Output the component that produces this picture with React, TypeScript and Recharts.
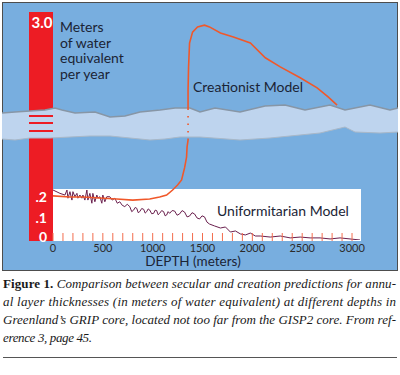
import React from 'react';
import { LineChart, Line, XAxis, YAxis } from 'recharts';

// depth axis labels (m) and value axis labels (m water equivalent / yr)
const DEPTH_LABELS = [0, 500, 1000, 1500, 2000, 2500, 3000];
const DEPTH_MINOR_STEP = 100;
const Y_TICKS = [0, 0.1, 0.2, 3.0];
const Y_TICK_LABELS = ['0', '.1', '.2', '3.0'];

// Uniformitarian model (GRIP core)
const UNI_DEPTH = [
  0, 70, 120, 140, 150, 170, 190, 200, 220, 240, 250, 270, 290, 300, 320, 340, 350, 370, 390, 400,
  420, 440, 450, 470, 490, 500, 520, 540, 570, 595, 620, 645, 670, 695, 720, 745, 770, 790, 810, 825,
  840, 855, 870, 890, 910, 925, 940, 955, 970, 990, 1010, 1025, 1040, 1055, 1070, 1090, 1110, 1125,
  1140, 1155, 1170, 1195, 1220, 1245, 1270, 1295, 1320, 1345, 1370, 1395, 1420, 1445, 1470, 1495,
  1520, 1545, 1570, 1620, 1680, 1730, 1780, 1830, 1880, 1930, 1980, 2030, 2080, 2180, 2280, 2380,
  2480, 2580, 2680, 2780, 2880, 2980, 3080,
];
const UNI_VALUE = [
  0.238, 0.222, 0.214, 0.238, 0.199, 0.23, 0.19, 0.23, 0.206, 0.222, 0.199, 0.214, 0.199, 0.214, 0.19,
  0.238, 0.19, 0.222, 0.175, 0.222, 0.182, 0.214, 0.199, 0.206, 0.175, 0.214, 0.182, 0.206, 0.206, 0.19,
  0.199, 0.175, 0.182, 0.165, 0.159, 0.17, 0.159, 0.135, 0.143, 0.155, 0.151, 0.13, 0.135, 0.15, 0.146,
  0.128, 0.135, 0.148, 0.143, 0.125, 0.127, 0.142, 0.14, 0.12, 0.127, 0.14, 0.135, 0.115, 0.119, 0.135,
  0.127, 0.14, 0.138, 0.118, 0.124, 0.14, 0.133, 0.11, 0.114, 0.13, 0.124, 0.105, 0.1, 0.115, 0.11,
  0.085, 0.076, 0.067, 0.057, 0.062, 0.038, 0.043, 0.029, 0.024, 0.033, 0.019, 0.019, 0.014, 0.019,
  0.01, 0.014, 0.01, 0.01, 0.005, 0.01, 0.005, 0,
];

// Creationist model: below the tear, and above it
const CRE_LOW_DEPTH = [0, 170, 300, 470, 640, 800, 970, 1070, 1140, 1200, 1250, 1290, 1320, 1340, 1345, 1355];
const CRE_LOW_VALUE = [0.21, 0.205, 0.205, 0.2, 0.195, 0.19, 0.195, 0.205, 0.214, 0.238, 0.262, 0.286, 0.343, 0.395, 0.443, 0.476];
const CRE_HIGH_DEPTH = [1355, 1355, 1360, 1370, 1400, 1450, 1520, 1570, 1680, 1810, 1980, 2130, 2280, 2480, 2650, 2760, 2850];
const CRE_HIGH_VALUE = [1.0, 1.46, 1.99, 2.54, 2.79, 2.91, 2.95, 2.91, 2.77, 2.68, 2.54, 2.2, 1.99, 1.74, 1.51, 1.3, 1.11];

// broken value axis: linear up to the tear, then a squeezed upper part
const BREAK_LOW = 0.476;
const BREAK_HIGH = 1.0;
const TEAR = 0.143;
const UPPER_SCALE = 0.207;
const toPlot = (v: number) => {
  if (v <= BREAK_LOW) return v;
  if (v <= BREAK_HIGH) return BREAK_LOW + ((v - BREAK_LOW) / (BREAK_HIGH - BREAK_LOW)) * TEAR;
  return BREAK_LOW + TEAR + (v - BREAK_HIGH) * UPPER_SCALE;
};

const toRows = (depth: number[], value: number[]) =>
  depth.map((d, i) => ({ depth: d, value: value[i], plot: toPlot(value[i]) }));

const uniData = toRows(UNI_DEPTH, UNI_VALUE);
const creLow = toRows(CRE_LOW_DEPTH, CRE_LOW_VALUE);
const creHigh = toRows(CRE_HIGH_DEPTH, CRE_HIGH_VALUE);
const creTear = [creLow[creLow.length - 1], creHigh[0]];

const minorTicks: number[] = [];
for (let d = 0; d <= DEPTH_LABELS[DEPTH_LABELS.length - 1]; d += DEPTH_MINOR_STEP) minorTicks.push(d);

const FONT = 'Lato, "Open Sans", sans-serif';
const BLUE = '#78aedf';
const RED = '#ed1c24';
const ORANGE = '#f0582a';

const DepthTick = (props: any) => {
  const { x, y, payload } = props;
  const v = payload.value;
  return (
    <g>
      <line x1={x} x2={x} y1={y - 7} y2={y + 1} stroke="#f36d4e" strokeWidth={1} />
      {DEPTH_LABELS.includes(v) && (
        <text x={x} y={y + 12} textAnchor="middle" fontSize={11} fill="#2b2b2b" fontFamily={FONT}>
          {v}
        </text>
      )}
    </g>
  );
};

const ValueTick = (props: any) => {
  const { x, y, payload } = props;
  const i = Y_TICKS.findIndex((t) => Math.abs(toPlot(t) - payload.value) < 1e-6);
  const top = i === Y_TICKS.length - 1;
  const dy = top ? 5 : i === 0 ? 1.5 : 4;
  return (
    <text
      x={top ? x - 11 : x - 6}
      y={y + dy}
      textAnchor={top ? 'middle' : 'end'}
      fill="#fff"
      fontWeight={700}
      fontSize={top ? 15 : 14}
      fontFamily={FONT}
    >
      {Y_TICK_LABELS[i]}
    </text>
  );
};

const bandTop = '2,113 15,112 30,111 45,110 55,108 62,110 75,113 95,112 110,117 125,116 140,112 160,110 175,108 190,108 200,112 215,108 240,112 265,106 285,105 305,110 330,105 345,110 370,105 390,110 398,108';
const bandBottom = '398,132 380,133 355,132 345,127 320,133 300,135 270,138 240,140 200,137 180,137 165,139 150,140 130,138 110,136 90,136 70,137 50,138 30,138 15,140 2,139';

const Background = () => (
  <svg width={400} height={375} style={{ position: 'absolute', left: 0, top: 0 }}>
    <rect x={2.5} y={2.5} width={395} height={268} fill={BLUE} stroke="#4d4d4d" strokeWidth={1} />
    <rect x={29} y={12} width={24} height={229} fill={RED} />
    <polygon points={`${bandTop} ${bandBottom}`} fill="#bed4ee" />
    <polyline points={bandTop} fill="none" stroke="#8796a6" strokeWidth={1.5} />
    <polyline points={bandBottom} fill="none" stroke="#a9b8c8" strokeWidth={1} />
    {[116, 123, 131].map((y) => (
      <rect key={y} x={29} y={y - 1} width={24} height={2} fill={RED} />
    ))}
    <rect x={53} y={189} width={308} height={52} fill="#fff" />

    <g fontFamily={FONT} fontSize={14} fill="#1b2435">
      <text x={193} y={92}>Creationist Model</text>
      <text x={217} y={216}>Uniformitarian Model</text>
      <text x={193} y={266} fontSize={13.5} textAnchor="middle">DEPTH (meters)</text>
    </g>

    <g fontFamily='"Liberation Serif", serif' fontSize={13} fill="#1a1a1a">
      <text x={3} y={288} textLength={393} lengthAdjust="spacing">
        <tspan fontWeight={700}>Figure 1.</tspan>
        <tspan fontStyle="italic"> Comparison between secular and creation predictions for annu-</tspan>
      </text>
      <text x={3} y={306} textLength={393} lengthAdjust="spacing" fontStyle="italic">
        al layer thicknesses (in meters of water equivalent) at different depths in
      </text>
      <text x={3} y={324} textLength={393} lengthAdjust="spacing" fontStyle="italic">
        Greenland’s GRIP core, located not too far from the GISP2 core. From ref-
      </text>
      <text x={3} y={342} textLength={89} lengthAdjust="spacing" fontStyle="italic">
        erence 3, page 45.
      </text>
    </g>
    <line x1={3} x2={397} y1={357.5} y2={357.5} stroke="#555" strokeWidth={1} />
  </svg>
);

export default function App() {
  return (
    <div style={{ position: 'absolute', left: 0, top: 0, width: 400, height: 375, background: '#fff' }}>
      <Background />
      <div
        style={{
          position: 'absolute',
          left: 60,
          top: 19,
          fontFamily: FONT,
          fontSize: 14,
          lineHeight: '15.5px',
          color: '#1b2435',
          whiteSpace: 'nowrap',
        }}
      >
        Meters
        <br />
        of water
        <br />
        equivalent
        <br />
        per year
      </div>
      <div style={{ position: 'absolute', left: 0, top: 0 }}>
        <LineChart width={400} height={375} margin={{ top: 23, right: 39, bottom: 105, left: 29 }}>
          <XAxis
            dataKey="depth"
            type="number"
            domain={[0, 3090]}
            ticks={minorTicks}
            interval={0}
            tick={<DepthTick />}
            tickSize={0}
            tickMargin={0}
            tickLine={false}
            axisLine={false}
            height={30}
            allowDataOverflow
          />
          <YAxis
            type="number"
            domain={[0, toPlot(3.0)]}
            ticks={Y_TICKS.map(toPlot)}
            interval={0}
            tick={<ValueTick />}
            tickSize={0}
            tickMargin={0}
            tickLine={false}
            axisLine={false}
            width={24}
            allowDataOverflow
          />
          <Line data={uniData} dataKey="plot" type="linear" stroke="#6a1f4d" strokeWidth={1} dot={false} isAnimationActive={false} />
          <Line data={creLow} dataKey="plot" type="linear" stroke={ORANGE} strokeWidth={1.6} dot={false} isAnimationActive={false} />
          <Line data={creTear} dataKey="plot" type="linear" stroke={ORANGE} strokeWidth={1.6} strokeDasharray="1.5 6" dot={false} isAnimationActive={false} />
          <Line data={creHigh} dataKey="plot" type="linear" stroke={ORANGE} strokeWidth={1.6} dot={false} isAnimationActive={false} />
        </LineChart>
      </div>
    </div>
  );
}
